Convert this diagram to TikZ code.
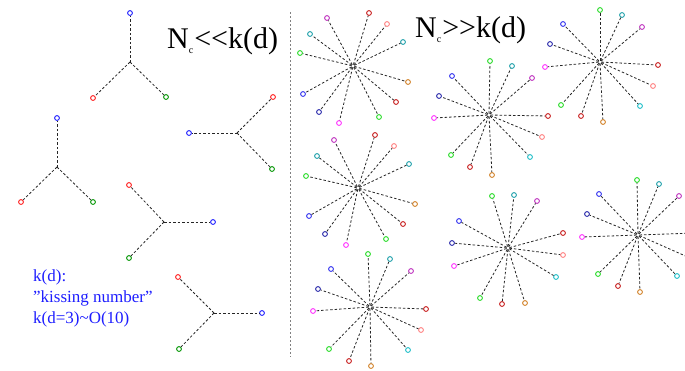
\documentclass[tikz,border=0pt]{standalone}
\usepackage{fontspec}
\setmainfont{Liberation Serif}[Ligatures=ResetAll]
\definecolor{tblue}{RGB}{30,30,255}
\definecolor{tred}{RGB}{255,30,30}
\definecolor{tgreen}{RGB}{0,150,0}
\definecolor{cpurple}{RGB}{190,50,190}
\definecolor{cdred}{RGB}{200,30,30}
\definecolor{cpink}{RGB}{255,130,130}
\definecolor{cteal}{RGB}{30,160,170}
\definecolor{cgreen}{RGB}{40,220,40}
\definecolor{corange}{RGB}{210,130,40}
\definecolor{cdblue}{RGB}{40,40,170}
\definecolor{cmag}{RGB}{255,50,255}
\definecolor{cblue}{RGB}{50,50,240}
\definecolor{ccyan}{RGB}{30,190,200}
\definecolor{ctext}{RGB}{30,30,255}
\tikzset{
  endpt/.style={circle, draw, line width=0.9pt, inner sep=0pt, minimum size=4.8pt, fill=white},
  spoke/.style={line width=0.8pt, dash pattern=on 2.5pt off 2pt, black!85, shorten <=1.5pt},
  divider/.style={line width=0.7pt, dash pattern=on 2pt off 2pt, gray},
  title/.style={font=\fontsize{30}{32}\selectfont, inner sep=0pt, anchor=base west},
  note/.style={font=\fontsize{17}{21}\selectfont, text=ctext, align=left, inner sep=0pt, anchor=base west}
}
\newcommand{\subc}{\raisebox{-5pt}{\fontsize{10}{10}\selectfont c}\kern1pt}
\begin{document}
\begin{tikzpicture}[x=1pt,y=-1pt]
\clip (0,0) rectangle (685,370);
\fill[white] (0,0) rectangle (685,370);
% divider
\coordinate (dv1) at (290,12);
\coordinate (dv2) at (290,357);
\draw[divider] (dv1) -- (dv2);
% titles
\node[title] (t1) at (167,48) {N\subc{\symbol{60}}{\symbol{60}}k(d)};
\node[title] (t2) at (415,37) {N\subc{\symbol{62}}{\symbol{62}}k(d)};
\node[note] (n1) at (33,323) {k(d):\\\symbol{34}kissing number\symbol{34}\\k(d=3)\symbol{126}O(10)};
% tripods
\foreach \k/\c/\b/\r/\g in {
  1/{130,62}/{130,13}/{93,98}/{166,97},
  2/{57,167}/{57,118}/{21,202}/{93,202},
  3/{237,133}/{189,133}/{273,97}/{272,169},
  4/{164,222}/{213,222}/{129,185}/{129,258},
  5/{214,313}/{262,313}/{178,277}/{179,349}}{
  \coordinate (T\k) at (\c);
  \node[endpt, draw=tblue] (T\k b) at (\b) {};
  \node[endpt, draw=tred] (T\k r) at (\r) {};
  \node[endpt, draw=tgreen] (T\k g) at (\g) {};
  \draw[spoke, shorten <=0pt] (T\k) -- (T\k b);
  \draw[spoke, shorten <=0pt] (T\k) -- (T\k r);
  \draw[spoke, shorten <=0pt] (T\k) -- (T\k g);
}
% star A
\coordinate (A) at (353,66);
\foreach \n/\p/\c in {1/{327,18}/cpurple,2/{369,13}/cdred,3/{387,24}/cpink,4/{403,42}/cteal,
  5/{310,34}/cteal,6/{300,53}/cgreen,7/{408,82}/corange,8/{396,102}/cdred,
  9/{379,117}/cgreen,10/{339,123}/cmag,11/{319,112}/cdblue,12/{303,94}/cblue}{
  \node[endpt, draw=\c] (A\n) at (\p) {};
  \draw[spoke] (A) -- (A\n);
}
% star D
\coordinate (D) at (358,188);
\foreach \n/\p/\c in {1/{334,140}/cpurple,2/{375,135}/cdred,3/{394,146}/cpink,4/{409,164}/cteal,
  5/{317,156}/cteal,6/{306,176}/cgreen,7/{415,204}/corange,8/{403,224}/cdred,
  9/{386,239}/cgreen,10/{346,245}/cmag,11/{325,234}/cdblue,12/{309,216}/cblue}{
  \node[endpt, draw=\c] (D\n) at (\p) {};
  \draw[spoke] (D) -- (D\n);
}
% star B
\coordinate (B) at (489,115);
\foreach \n/\p/\c in {1/{490,61}/cgreen,2/{512,66}/cteal,3/{532,78}/cpurple,4/{452,76}/cblue,
  5/{439,96}/cdblue,6/{434,118}/cmag,7/{548,116}/cdred,8/{542,137}/cpink,
  9/{530,157}/ccyan,10/{451,155}/cgreen,11/{470,167}/cdred,12/{492,175}/corange}{
  \node[endpt, draw=\c] (B\n) at (\p) {};
  \draw[spoke] (B) -- (B\n);
}
% star C
\coordinate (C) at (600,62);
\foreach \n/\p/\c in {1/{600,10}/cgreen,2/{622,15}/cteal,3/{642,27}/cpurple,4/{563,24}/cblue,
  5/{550,44}/cdblue,6/{545,67}/cmag,7/{658,65}/cdred,8/{653,86}/cpink,
  9/{640,106}/ccyan,10/{561,105}/cgreen,11/{581,116}/cdred,12/{603,122}/corange}{
  \node[endpt, draw=\c] (C\n) at (\p) {};
  \draw[spoke] (C) -- (C\n);
}
% star E
\coordinate (E) at (370,307);
\foreach \n/\p/\c in {1/{368,254}/cgreen,2/{390,259}/cteal,3/{411,271}/cpurple,4/{331,269}/cblue,
  5/{318,289}/cdblue,6/{313,311}/cmag,7/{426,309}/cdred,8/{421,330}/cpink,
  9/{408,350}/ccyan,10/{329,349}/cgreen,11/{349,361}/cdred,12/{371,366}/corange}{
  \node[endpt, draw=\c] (E\n) at (\p) {};
  \draw[spoke] (E) -- (E\n);
}
% star F
\coordinate (F) at (508,248);
\foreach \n/\p/\c in {1/{492,196}/cgreen,2/{514,195}/cteal,3/{537,201}/cpurple,4/{459,221}/cblue,
  5/{452,243}/cdblue,6/{454,266}/cmag,7/{563,233}/cdred,8/{563,255}/cpink,
  9/{556,277}/ccyan,10/{480,298}/cgreen,11/{502,304}/cdred,12/{525,303}/corange}{
  \node[endpt, draw=\c] (F\n) at (\p) {};
  \draw[spoke] (F) -- (F\n);
}
% star G
\coordinate (G) at (638,235);
\foreach \n/\p/\c in {1/{637,180}/cgreen,2/{659,184}/cteal,3/{679,196}/cpurple,4/{599,194}/cblue,
  5/{587,214}/cdblue,6/{582,237}/cmag,7/{695,233}/cdred,8/{690,258}/cpink,
  9/{677,276}/ccyan,10/{598,274}/cgreen,11/{618,286}/cdred,12/{640,292}/corange}{
  \node[endpt, draw=\c] (G\n) at (\p) {};
  \draw[spoke] (G) -- (G\n);
}
\end{tikzpicture}
\end{document}
